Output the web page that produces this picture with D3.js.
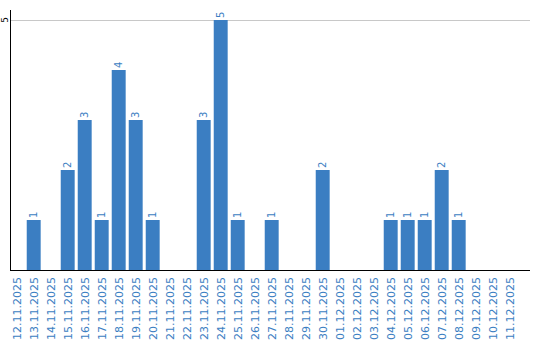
<!DOCTYPE html>
<html><head><meta charset="utf-8">
<script src="https://cdn.jsdelivr.net/npm/d3@7"></script>
<style>body{margin:0;background:#fff}svg{display:block}</style>
</head><body>
<svg id="c" width="540" height="340"></svg>
<script>
const dates = ["12.11.2025","13.11.2025","14.11.2025","15.11.2025","16.11.2025","17.11.2025","18.11.2025","19.11.2025","20.11.2025","21.11.2025","22.11.2025","23.11.2025","24.11.2025","25.11.2025","26.11.2025","27.11.2025","28.11.2025","29.11.2025","30.11.2025","01.12.2025","02.12.2025","03.12.2025","04.12.2025","05.12.2025","06.12.2025","07.12.2025","08.12.2025","09.12.2025","10.12.2025","11.12.2025"];
const values = [0,1,0,2,3,1,4,3,1,0,0,3,5,1,0,1,0,0,2,0,0,0,1,1,1,2,1,0,0,0];
const yTicks = [5];

const svg = d3.select("#c");
const blue = "#3b7ec2";
const x = d3.scaleBand().domain(dates).range([8.2, 518.2]).paddingInner(0.18).paddingOuter(0.09);
const y = d3.scaleLinear().domain([0, 5]).range([270, 20]);

// gridlines
svg.append("g").selectAll("line").data(yTicks).join("line")
  .attr("x1", 10).attr("x2", 530)
  .attr("y1", d => y(d) + 0.5).attr("y2", d => y(d) + 0.5)
  .attr("stroke", "#c8c8c8").attr("stroke-width", 1);

// bars
svg.append("g").selectAll("rect").data(values.map((v,i)=>({d:dates[i],v})).filter(o=>o.v>0)).join("rect")
  .attr("x", o => x(o.d)).attr("width", x.bandwidth())
  .attr("y", o => y(o.v)).attr("height", o => y(0) - y(o.v))
  .attr("fill", blue);

// value labels
svg.append("g").selectAll("text").data(values.map((v,i)=>({d:dates[i],v})).filter(o=>o.v>0)).join("text")
  .attr("transform", o => `translate(${x(o.d) + x.bandwidth()/2 + 3.5},${y(o.v) - 2}) rotate(-90)`)
  .attr("font-family", "DejaVu Sans").attr("font-size", 10)
  .attr("fill", blue).text(o => o.v);

// axes lines
svg.append("line").attr("x1", 10.5).attr("x2", 10.5).attr("y1", 10).attr("y2", 270).attr("stroke", "#000");
svg.append("line").attr("x1", 10).attr("x2", 530).attr("y1", 270.5).attr("y2", 270.5).attr("stroke", "#000");

// y tick labels
svg.append("g").selectAll("text").data(yTicks).join("text")
  .attr("transform", d => `translate(7.5,${y(d)}) rotate(-90)`)
  .attr("text-anchor", "middle")
  .attr("font-family", "DejaVu Sans").attr("font-size", 9)
  .attr("fill", "#000").text(d => d);

// x labels
svg.append("g").selectAll("text").data(dates).join("text")
  .attr("transform", d => `translate(${x(d) + x.bandwidth()/2 + 4},277) rotate(-90)`)
  .attr("text-anchor", "end")
  .attr("font-family", "DejaVu Sans").attr("font-size", 11)
  .attr("fill", blue).text(d => d);
</script>
</body></html>
